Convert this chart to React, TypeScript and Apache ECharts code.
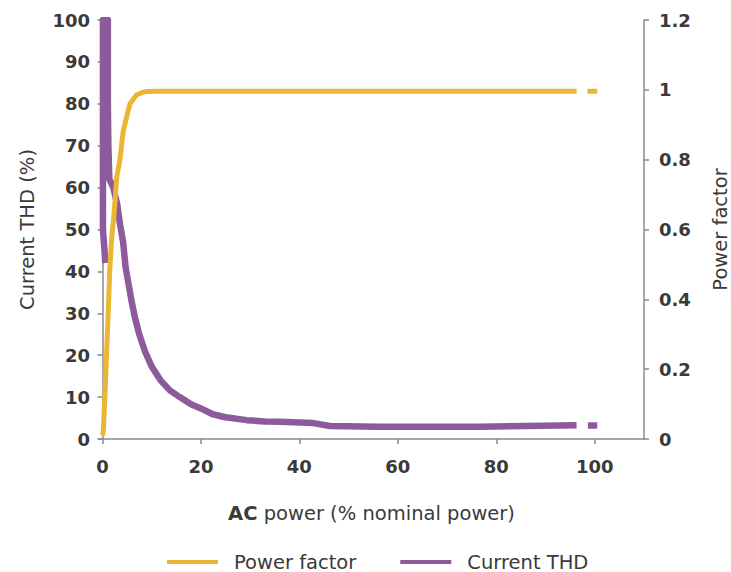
import React, { useEffect, useRef } from "react";
import * as echarts from "echarts";

// AC power (% nominal) and power factor readings
const acPowerPF = [0, 0.16, 0.5, 0.85, 1.2, 1.5, 1.9, 2.2, 2.5, 2.9, 3.55, 4.2, 5.2, 5.6, 6.9, 8.2, 9, 11, 20, 40, 60, 80, 96.3, 97.5, 98.5, 100.5];
const powerFactor = [0.01, 0.02, 0.12, 0.25, 0.37, 0.49, 0.58, 0.62, 0.67, 0.75, 0.8, 0.88, 0.94, 0.96, 0.985, 0.993, 0.995, 0.996, 0.996, 0.996, 0.996, 0.996, 0.996, null, 0.996, 0.996];

// AC power (% nominal) and current THD (%) readings
const acPowerTHD = [0.6, 0.1, 0.1, 1.1, 1.1, 1.2, 1.4, 2.2, 3, 3.6, 4.2, 4.7, 5.3, 5.9, 6.6, 7.4, 8.6, 10, 11.8, 13.7, 15.7, 18, 20, 22.4, 25, 29.3, 33, 36, 42.8, 46.2, 56, 66, 76.6, 86, 96.3, 97.5, 98.6, 100.5];
const currentTHD = [42, 50, 100, 100, 80, 70, 62, 60, 56, 51, 47, 41, 37, 33, 29, 25.3, 21, 17.3, 14, 11.6, 10, 8.3, 7.3, 5.9, 5.2, 4.5, 4.2, 4.1, 3.8, 3.1, 2.9, 2.9, 2.9, 3.1, 3.3, null, 3.2, 3.2];

const xTicks = [0, 20, 40, 60, 80, 100];
const legendNames = ["Power factor", "Current THD"];

const FONT = "'DejaVu Sans', 'Liberation Sans', sans-serif";
const TEXT = "#3a3a3a";
const AXIS = "#8a8a8a";
const YELLOW = "#EBB634";
const PURPLE = "#8D5B9B";
const NAME_SIZE = 19.5;

const zip = (xs: number[], ys: (number | null)[]) => xs.map((x, i) => [x, ys[i]]);

export default function App() {
  const ref = useRef<HTMLDivElement>(null);
  useEffect(() => {
    if (!ref.current) return;
    const chart = echarts.init(ref.current, undefined, { renderer: "svg" });
    const labelStyle = { color: TEXT, fontFamily: FONT, fontSize: 18, fontWeight: "bold" as const };
    chart.setOption({
      animation: false,
      grid: { left: 99, right: 87, top: 20, bottom: 133, containLabel: false, outerBoundsMode: "none" },
      legend: {
        data: legendNames,
        left: 162,
        top: 547,
        icon: "rect",
        itemWidth: 51,
        itemHeight: 4,
        itemGap: 44,
        textStyle: { color: TEXT, fontFamily: FONT, fontSize: NAME_SIZE, padding: [0, 0, 0, 11] },
      },
      xAxis: {
        type: "value",
        min: -0.7,
        max: 110,
        name: "{b|AC} power (% nominal power)",
        nameLocation: "middle",
        nameGap: 64,
        nameTextStyle: {
          color: TEXT,
          fontFamily: FONT,
          fontSize: NAME_SIZE,
          rich: { b: { fontWeight: "bold", fontFamily: FONT, fontSize: NAME_SIZE, color: TEXT } },
        },
        axisLine: { show: true, lineStyle: { color: AXIS, width: 1.5 } },
        axisTick: { show: true, length: 5, customValues: xTicks, lineStyle: { color: AXIS, width: 1.5 } },
        axisLabel: { ...labelStyle, margin: 18, customValues: xTicks },
        splitLine: { show: false },
      },
      yAxis: [
        {
          type: "value",
          min: 0,
          max: 100,
          interval: 10,
          name: "Current THD (%)",
          nameLocation: "middle",
          nameGap: 62,
          nameTextStyle: { color: TEXT, fontFamily: FONT, fontSize: NAME_SIZE },
          axisLine: { show: true, lineStyle: { color: AXIS, width: 1.5 } },
          axisTick: { show: true, length: 5, lineStyle: { color: AXIS, width: 1.5 } },
          axisLabel: { ...labelStyle, margin: 9 },
          splitLine: { show: false },
        },
        {
          type: "value",
          min: 0,
          max: 1.2,
          interval: 0.2,
          position: "right",
          name: "Power factor",
          nameLocation: "middle",
          nameGap: 66,
          nameTextStyle: { color: TEXT, fontFamily: FONT, fontSize: NAME_SIZE },
          axisLine: { show: true, lineStyle: { color: AXIS, width: 1.5 } },
          axisTick: { show: true, length: 5, lineStyle: { color: AXIS, width: 1.5 } },
          axisLabel: {
            ...labelStyle,
            margin: 15,
            formatter: (v: number) => String(Math.round(v * 10) / 10),
          },
          splitLine: { show: false },
        },
      ],
      series: [
        {
          name: "Current THD",
          type: "line",
          yAxisIndex: 0,
          data: zip(acPowerTHD, currentTHD),
          showSymbol: false,
          symbol: "none",
          lineStyle: { color: PURPLE, width: 6.5, join: "round" },
          itemStyle: { color: PURPLE },
          z: 2,
        },
        {
          name: "Power factor",
          type: "line",
          yAxisIndex: 1,
          data: zip(acPowerPF, powerFactor),
          showSymbol: false,
          symbol: "none",
          lineStyle: { color: YELLOW, width: 5 },
          itemStyle: { color: YELLOW },
          z: 3,
        },
      ],
    });
    return () => chart.dispose();
  }, []);
  return <div ref={ref} style={{ width: 731, height: 572, position: "absolute", left: 0, top: 0 }} />;
}
